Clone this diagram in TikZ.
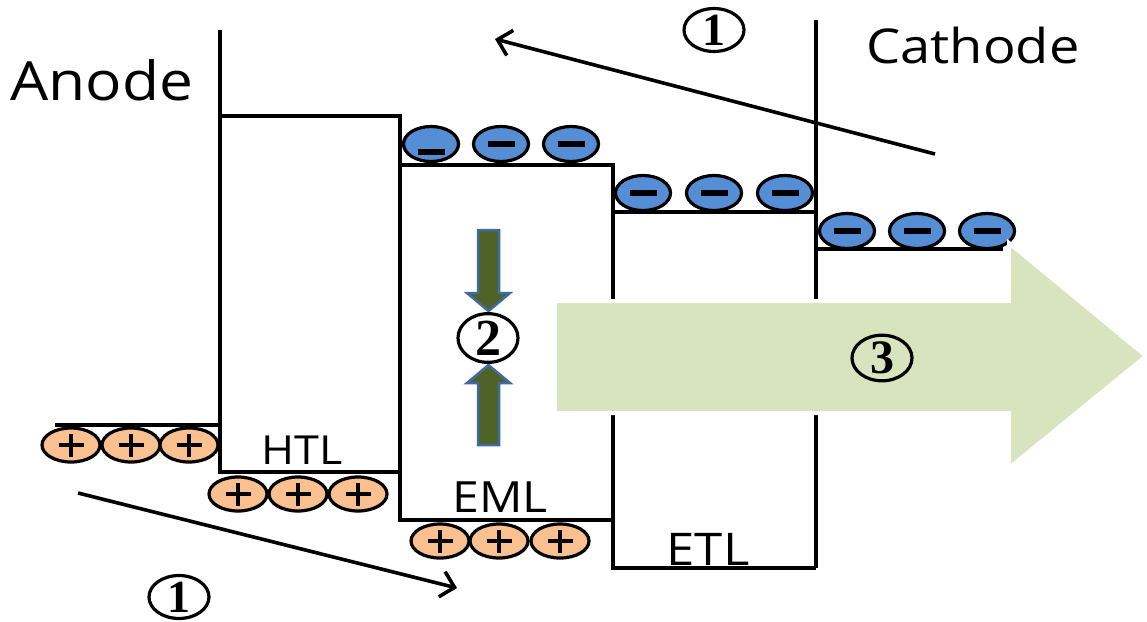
\documentclass[tikz,border=0pt]{standalone}
\usepackage{fontspec}
\setmainfont{Open Sans}
\newfontfamily\numfont{Liberation Serif}
\usetikzlibrary{shapes.geometric,arrows.meta}
\definecolor{elecblue}{HTML}{558ED5}
\definecolor{holeorange}{HTML}{FAC090}
\definecolor{bigarrowc}{HTML}{D7E4BD}
\definecolor{olivefill}{HTML}{4F6228}
\definecolor{arrowedge}{HTML}{3F6BA0}
\begin{document}
\begin{tikzpicture}[x=1pt,y=-1pt,
  level/.style={line width=3.6pt, line join=miter},
  elec/.style={ellipse, draw, line width=3.2pt, fill=elecblue, minimum width=55pt, minimum height=35pt, inner sep=0pt,
    path picture={\draw[line width=6.5pt] ([xshift=-13.5pt,yshift=#1]path picture bounding box.center) -- ([xshift=13.5pt,yshift=#1]path picture bounding box.center);}},
  elec/.default=0pt,
  hole/.style={ellipse, draw, line width=3.2pt, fill=holeorange, minimum width=58pt, minimum height=34pt, inner sep=0pt,
    path picture={\draw[line width=4.5pt] ([xshift=-12.5pt]path picture bounding box.center) -- ([xshift=12.5pt]path picture bounding box.center) ([yshift=-11.5pt]path picture bounding box.center) -- ([yshift=11.5pt]path picture bounding box.center);}},
  lbl/.style={inner sep=0pt, anchor=base},
  circnum/.style={ellipse, draw, line width=3.2pt, minimum width=60pt, minimum height=36pt, inner sep=0pt},
  flow/.style={line width=3.6pt, -{Straight Barb[length=13pt,width=26pt]}},
  bigarr/.style={fill=bigarrowc, draw=white, line width=4pt, line join=miter},
  smallarr/.style={fill=olivefill, draw=arrowedge, line width=2.5pt, line join=miter}
]
\path[fill=white, use as bounding box] (0,0) rectangle (1147,621);

% energy levels
\draw[level] (220,30) -- (220,472) -- (400,472);
\draw[level] (220,116) -- (400,116) -- (400,520) -- (613,520);
\draw[level] (400,165) -- (613,165) -- (613,568) -- (816,568);
\draw[level] (613,212) -- (816,212);
\draw[level] (816,20) -- (816,568);
\draw[level] (55,425) -- (220,425);
\draw[level] (816,249) -- (1003,249);

% electrons
\node[elec=-8pt] (e1) at (431,144) {};
\node[elec] (e2) at (501,144) {};
\node[elec] (e3) at (571,144) {};
\node[elec] (e4) at (643,193) {};
\node[elec] (e5) at (714,193) {};
\node[elec] (e6) at (785,193) {};
\node[elec] (e7) at (847,231) {};
\node[elec] (e8) at (917,231) {};
\node[elec] (e9) at (987,231) {};

% holes
\node[hole] (h1) at (71,445) {};
\node[hole] (h2) at (131,445) {};
\node[hole] (h3) at (189,445) {};
\node[hole] (h4) at (238,494) {};
\node[hole] (h5) at (298,494) {};
\node[hole] (h6) at (358,494) {};
\node[hole] (h7) at (440,541) {};
\node[hole] (h8) at (499,541) {};
\node[hole] (h9) at (560,541) {};

% big arrow 3
\path[bigarr] (555,301) -- (1009,301) -- (1009,243) -- (1146,356) -- (1009,468) -- (1009,413) -- (555,413) -- cycle;
\node[circnum] (n3) at (882,358) {\numfont\bfseries\fontsize{48}{48}\selectfont 3};

% recombination arrows 2
\path[smallarr] (478,230) -- (499,230) -- (499,293) -- (510,293) -- (488.5,311) -- (467,293) -- (478,293) -- cycle;
\path[smallarr] (478,445) -- (499,445) -- (499,383) -- (510,383) -- (488.5,365) -- (467,383) -- (478,383) -- cycle;
\node[circnum] (n2) at (488,338) {\numfont\bfseries\fontsize{52}{52}\selectfont 2};

% injection arrows 1
\coordinate (ts) at (935,154);
\coordinate (te) at (495,39);
\draw[flow] (ts) -- (te);
\node[circnum] (n1a) at (714,30) {\numfont\bfseries\fontsize{46}{46}\selectfont 1};
\coordinate (bs) at (78,493);
\coordinate (be) at (457,588);
\draw[flow] (bs) -- (be);
\node[circnum] (n1b) at (179,597) {\numfont\bfseries\fontsize{46}{46}\selectfont 1};

% labels
\node[lbl, font=\fontsize{54}{54}\selectfont, xscale=1.12] (anode) at (102,100) {Anode};
\node[lbl, font=\fontsize{48}{48}\selectfont, xscale=1.13] (cathode) at (973,63) {Cathode};
\node[lbl, font=\fontsize{40}{40}\selectfont, xscale=1.12] (htl) at (302,464) {HTL};
\node[lbl, font=\fontsize{43}{43}\selectfont, xscale=1.12] (eml) at (500,512) {EML};
\node[lbl, font=\fontsize{45}{45}\selectfont, xscale=1.13] (etl) at (708,565) {ETL};
\end{tikzpicture}
\end{document}
